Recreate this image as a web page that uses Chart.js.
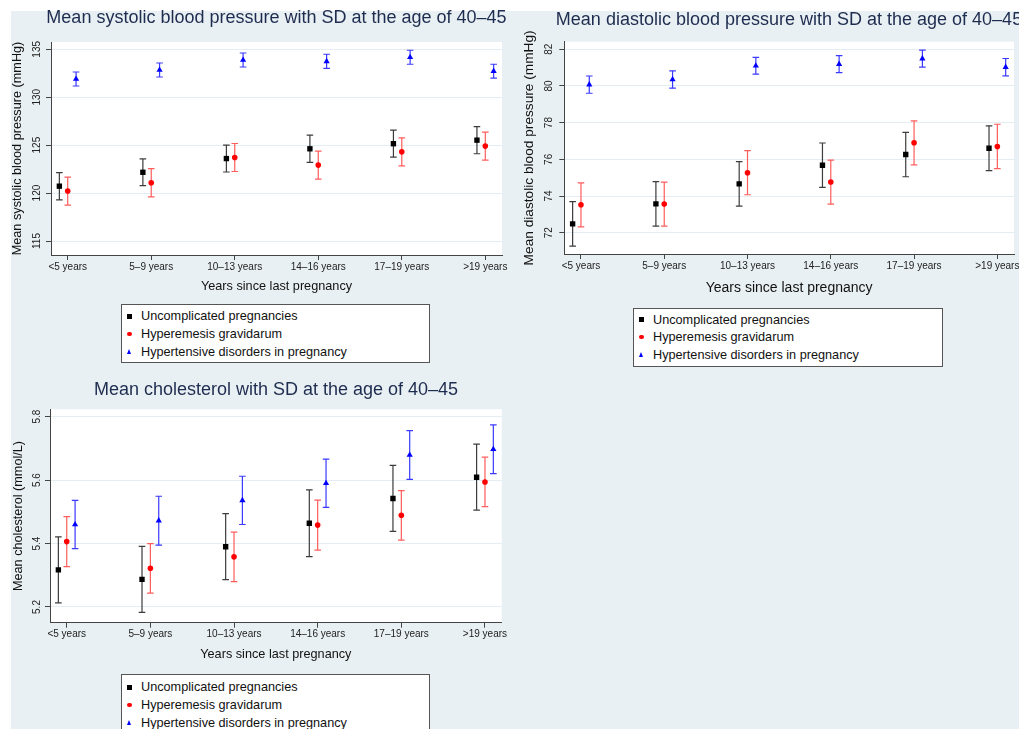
<!DOCTYPE html>
<html>
<head>
<meta charset="utf-8">
<script src="https://cdn.jsdelivr.net/npm/chart.js@4.4.1/dist/chart.umd.min.js"></script>
<style>
  html, body { margin: 0; padding: 0; background: #fff; width: 1019px; height: 729px; overflow: hidden; }
  #bg { position: absolute; left: 11px; top: 11px; width: 1008px; height: 718px; background: #e9f0f3; }
  canvas { position: absolute; }
  .legend { position: absolute; background: #fff; border: 1px solid #555; box-sizing: border-box;
            font: 12.7px "Liberation Sans", Arial, Helvetica, sans-serif; color: #111; }
  .legend .row { position: absolute; left: 0; height: 16px; line-height: 16px; white-space: nowrap; }
  .legend .txt { position: absolute; left: 19px; top: 0; }
  .mk { position: absolute; }
  .mk.rect { left: 5px; top: 5.6px; width: 4.8px; height: 4.8px; background: #000; }
  .mk.circle { left: 5.3px; top: 5.8px; width: 4.4px; height: 4.4px; border-radius: 50%; background: #f00; }
  .mk.triangle { left: 4.8px; top: 5px; width: 0; height: 0; border-left: 2.7px solid transparent;
                 border-right: 2.7px solid transparent; border-bottom: 5px solid #00f; }
</style>
</head>
<body>
<div id="bg"></div>
<canvas id="sys" width="553" height="300" style="left:0;top:0"></canvas>
<canvas id="dia" width="558" height="300" style="left:510px;top:0"></canvas>
<canvas id="chol" width="552" height="300" style="left:0;top:370px"></canvas>
<div class="legend" id="legSys" style="left:121px;top:304px;width:309px;height:59px"></div>
<div class="legend" id="legDia" style="left:633px;top:308px;width:310px;height:59px"></div>
<div class="legend" id="legChol" style="left:121px;top:674px;width:309px;height:59px"></div>
<script>
// categories and series
const categories = ["<5 years", "5–9 years", "10–13 years", "14–16 years", "17–19 years", ">19 years"];
const seriesNames = ["Uncomplicated pregnancies", "Hyperemesis gravidarum", "Hypertensive disorders in pregnancy"];

// systolic blood pressure (mmHg): means and SD
const sysUncomp = [120.72, 122.17, 123.6, 124.62, 125.15, 125.52];
const sysUncompSd = [1.42, 1.4, 1.4, 1.42, 1.41, 1.42];
const sysHyper = [120.21, 121.08, 123.71, 122.92, 124.3, 124.9];
const sysHyperSd = [1.46, 1.48, 1.46, 1.46, 1.46, 1.46];
const sysHtn = [131.9, 132.84, 133.88, 133.74, 134.17, 132.72];
const sysHtnSd = [0.73, 0.73, 0.73, 0.74, 0.73, 0.72];
const sysTicks = [115, 120, 125, 130, 135];

// diastolic blood pressure (mmHg)
const diaUncomp = [72.48, 73.57, 74.66, 75.68, 76.26, 76.6];
const diaUncompSd = [1.21, 1.21, 1.21, 1.21, 1.21, 1.22];
const diaHyper = [73.52, 73.56, 75.27, 74.76, 76.9, 76.7];
const diaHyperSd = [1.2, 1.2, 1.2, 1.2, 1.2, 1.21];
const diaHtn = [80.07, 80.35, 81.1, 81.19, 81.49, 81.02];
const diaHtnSd = [0.47, 0.475, 0.46, 0.465, 0.465, 0.475];
const diaTicks = [72, 74, 76, 78, 80, 82];

// cholesterol (mmol/L)
const cholUncomp = [5.317, 5.287, 5.39, 5.464, 5.542, 5.609];
const cholUncompSd = [0.104, 0.104, 0.104, 0.105, 0.104, 0.104];
const cholHyper = [5.406, 5.322, 5.358, 5.458, 5.489, 5.594];
const cholHyperSd = [0.079, 0.078, 0.078, 0.079, 0.078, 0.078];
const cholHtn = [5.46, 5.472, 5.536, 5.59, 5.679, 5.697];
const cholHtnSd = [0.076, 0.077, 0.076, 0.076, 0.077, 0.077];
const cholTicks = [5.2, 5.4, 5.6, 5.8];

const family = '"Liberation Sans", Arial, Helvetica, sans-serif';
const seriesStyle = [
  {shape: 'rect', color: '#000', bar: '#3c3c3c', radius: 3.8, offset: -0.1},
  {shape: 'circle', color: '#f00', bar: '#ff5c5c', radius: 2.8, offset: 0},
  {shape: 'triangle', color: '#00f', bar: '#3a3aff', radius: 3.6, offset: 0.1}
];

// white plot area
const plotBg = {
  id: 'plotBg',
  beforeDraw(chart) {
    const {ctx, chartArea: a} = chart;
    ctx.save();
    ctx.fillStyle = '#fff';
    ctx.fillRect(a.left, a.top, a.width, a.height);
    ctx.restore();
  }
};

// capped error bars: mean +/- sd
const errorBars = {
  id: 'errorBars',
  beforeDatasetsDraw(chart) {
    const {ctx, scales: {x, y}} = chart;
    ctx.save();
    ctx.lineWidth = 1.2;
    chart.data.datasets.forEach(ds => {
      ctx.strokeStyle = ds.barColor;
      ds.data.forEach((p, i) => {
        const px = x.getPixelForValue(p.x);
        const hi = y.getPixelForValue(p.y + ds.sd[i]);
        const lo = y.getPixelForValue(p.y - ds.sd[i]);
        ctx.beginPath();
        ctx.moveTo(px, hi); ctx.lineTo(px, lo);
        ctx.moveTo(px - 3.3, hi); ctx.lineTo(px + 3.3, hi);
        ctx.moveTo(px - 3.3, lo); ctx.lineTo(px + 3.3, lo);
        ctx.stroke();
      });
    });
    ctx.restore();
  }
};

// y axis title without the width squeeze of the built-in one
const yTitle = {
  id: 'yTitle',
  afterDraw(chart, args, opts) {
    const {ctx, chartArea: a} = chart;
    ctx.save();
    ctx.translate(opts.x, (a.top + a.bottom) / 2);
    ctx.rotate(-Math.PI / 2);
    ctx.font = opts.size + 'px ' + family;
    ctx.fillStyle = '#111';
    ctx.textAlign = 'center';
    ctx.textBaseline = 'middle';
    ctx.fillText(opts.text, 0, 0);
    ctx.restore();
  }
};

function makeChart(p) {
  const datasets = seriesNames.map((name, s) => ({
    label: name,
    data: p.means[s].map((v, i) => ({x: i + seriesStyle[s].offset, y: v})),
    sd: p.sds[s],
    barColor: seriesStyle[s].bar,
    pointStyle: seriesStyle[s].shape,
    pointRadius: seriesStyle[s].radius,
    pointHoverRadius: seriesStyle[s].radius,
    pointBackgroundColor: seriesStyle[s].color,
    pointBorderWidth: 0
  }));

  return new Chart(document.getElementById(p.id), {
    type: 'scatter',
    data: {datasets},
    plugins: [plotBg, errorBars, yTitle],
    options: {
      responsive: false,
      animation: false,
      devicePixelRatio: 1,
      layout: {padding: {left: 0, right: 0, top: 0, bottom: p.padBottom}},
      plugins: {
        legend: {display: false},
        tooltip: {enabled: false},
        title: {
          display: true, text: p.title, color: '#1e2c4f',
          font: {size: 18, family, weight: 'normal', lineHeight: 1.2},
          padding: p.titlePad
        },
        yTitle: {text: p.yTitle, size: p.yTitleSize, x: p.yTitleX}
      },
      scales: {
        x: {
          type: 'linear', min: -0.2, max: 5.2,
          afterBuildTicks: s => { s.ticks = categories.map((c, i) => ({value: i})); },
          afterFit: s => { s.height = p.xAxisH; s.paddingLeft = 0; s.paddingRight = p.padRight; },
          ticks: {
            callback: v => categories[v], autoSkip: false, maxRotation: 0, minRotation: 0,
            font: {size: 10, family}, color: '#222', padding: 1
          },
          grid: {drawOnChartArea: false, tickLength: 5, color: '#444', tickColor: '#444'},
          border: {color: '#444', width: 1},
          title: {
            display: true, text: 'Years since last pregnancy', color: '#111',
            font: {size: p.xTitleSize, family}, padding: {top: 0, bottom: 0}
          }
        },
        y: {
          type: 'linear', min: p.yMin, max: p.yMax,
          afterBuildTicks: s => { s.ticks = p.yTicks.map(v => ({value: v})); },
          afterFit: s => { s.width = p.yAxisW; s.paddingTop = 0; s.paddingBottom = 0; },
          ticks: {
            minRotation: 90, maxRotation: 90, crossAlign: 'center', padding: p.yTickPad,
            font: {size: 10, family}, color: '#222',
            callback: v => v.toFixed(p.decimals)
          },
          grid: {color: '#e4edf1', tickColor: '#444', tickLength: 5},
          border: {color: '#444', width: 1}
        }
      }
    }
  });
}

makeChart({
  id: 'sys', title: 'Mean systolic blood pressure with SD at the age of 40–45',
  yTitle: 'Mean systolic blood pressure (mmHg)', yTitleSize: 12.7, yTitleX: 17.5, xTitleSize: 12.7,
  means: [sysUncomp, sysHyper, sysHtn], sds: [sysUncompSd, sysHyperSd, sysHtnSd],
  yMin: 113.54, yMax: 135.76, yTicks: sysTicks, decimals: 0,
  yAxisW: 51, xAxisH: 39.3, padBottom: 5.7, padRight: 51, yTickPad: 0.7,
  titlePad: {top: 7.7, bottom: 12.7}
});

makeChart({
  id: 'dia', title: 'Mean diastolic blood pressure with SD at the age of 40–45',
  yTitle: 'Mean diastolic blood pressure (mmHg)', yTitleSize: 13.7, yTitleX: 19, xTitleSize: 14,
  means: [diaUncomp, diaHyper, diaHtn], sds: [diaUncompSd, diaHyperSd, diaHtnSd],
  yMin: 70.84, yMax: 82.41, yTicks: diaTicks, decimals: 0,
  yAxisW: 54.3, xAxisH: 42.7, padBottom: 3.3, padRight: 54, yTickPad: 4.7,
  titlePad: {top: 9.5, bottom: 10.6}
});

makeChart({
  id: 'chol', title: 'Mean cholesterol with SD at the age of 40–45',
  yTitle: 'Mean cholesterol (mmol/L)', yTitleSize: 12.7, yTitleX: 18.7, xTitleSize: 12.7,
  means: [cholUncomp, cholHyper, cholHtn], sds: [cholUncompSd, cholHyperSd, cholHtnSd],
  yMin: 5.1505, yMax: 5.823, yTicks: cholTicks, decimals: 1,
  yAxisW: 50, xAxisH: 39.9, padBottom: 7.4, padRight: 50.3, yTickPad: 0.6,
  titlePad: {top: 9.2, bottom: 8.5}
});

// boxed legends, one per panel
function makeLegend(id, firstRow) {
  const box = document.getElementById(id);
  seriesNames.forEach((name, s) => {
    const row = document.createElement('div');
    row.className = 'row';
    row.style.top = (firstRow + s * 17.7 - 8) + 'px';
    const mk = document.createElement('span');
    mk.className = 'mk ' + seriesStyle[s].shape;
    const txt = document.createElement('span');
    txt.className = 'txt';
    txt.textContent = name;
    row.appendChild(mk);
    row.appendChild(txt);
    box.appendChild(row);
  });
}
makeLegend('legSys', 11.4);
makeLegend('legDia', 10.6);
makeLegend('legChol', 12.3);
</script>
</body>
</html>
